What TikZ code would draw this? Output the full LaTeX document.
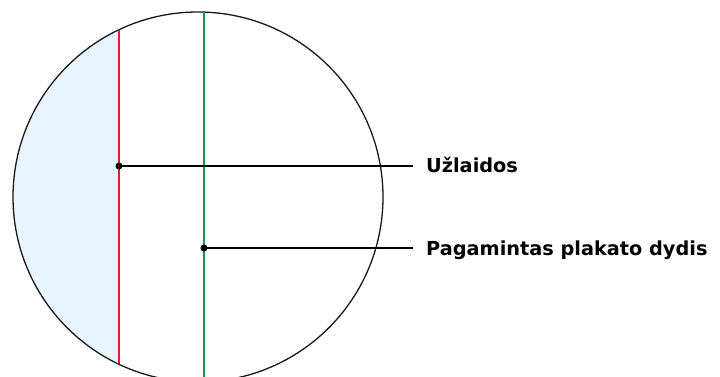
\documentclass[tikz,border=0pt]{standalone}
\usepackage{fontspec}
\newfontfamily\labelfont{DejaVu Sans}
\definecolor{cutred}{RGB}{225,35,35}
\definecolor{sizegreen}{RGB}{20,150,75}
\definecolor{bleedblue}{RGB}{232,245,254}
\begin{document}
\begin{tikzpicture}[x=1pt,y=-1pt,
  lbl/.style={anchor=base west,inner sep=0pt,font=\labelfont\bfseries\fontsize{19.3}{24}\selectfont},
  dotmark/.style={circle,fill=black,inner sep=0pt,minimum size=7pt},
  leader/.style={draw=black,line width=1.1pt}]
\useasboundingbox (0,0) rectangle (720,376);
\coordinate (c) at (198,197);
\begin{scope}
  \clip (c) circle[radius=185];
  \fill[bleedblue] (0,0) rectangle (119,400);
\end{scope}
\draw[line width=1.3pt,black!90] (c) circle[radius=185];
\coordinate (rtop) at (119,29.7);
\coordinate (rbot) at (119,364.3);
\draw[cutred,line width=2.6pt] (rtop) -- (rbot);
\coordinate (gtop) at (204,12.1);
\coordinate (gbot) at (204,381.9);
\draw[sizegreen,line width=2.6pt] (gtop) -- (gbot);
\node[dotmark] (d1) at (119,166) {};
\node[dotmark] (d2) at (204,248) {};
\coordinate (e1) at (413,166);
\coordinate (e2) at (413,248);
\draw[leader] (d1.center) -- (e1);
\draw[leader] (d2.center) -- (e2);
\node[lbl] (t1) at (426,172) {Užlaidos};
\node[lbl] (t2) at (426,255) {Pagamintas plakato dydis};
\end{tikzpicture}
\end{document}
